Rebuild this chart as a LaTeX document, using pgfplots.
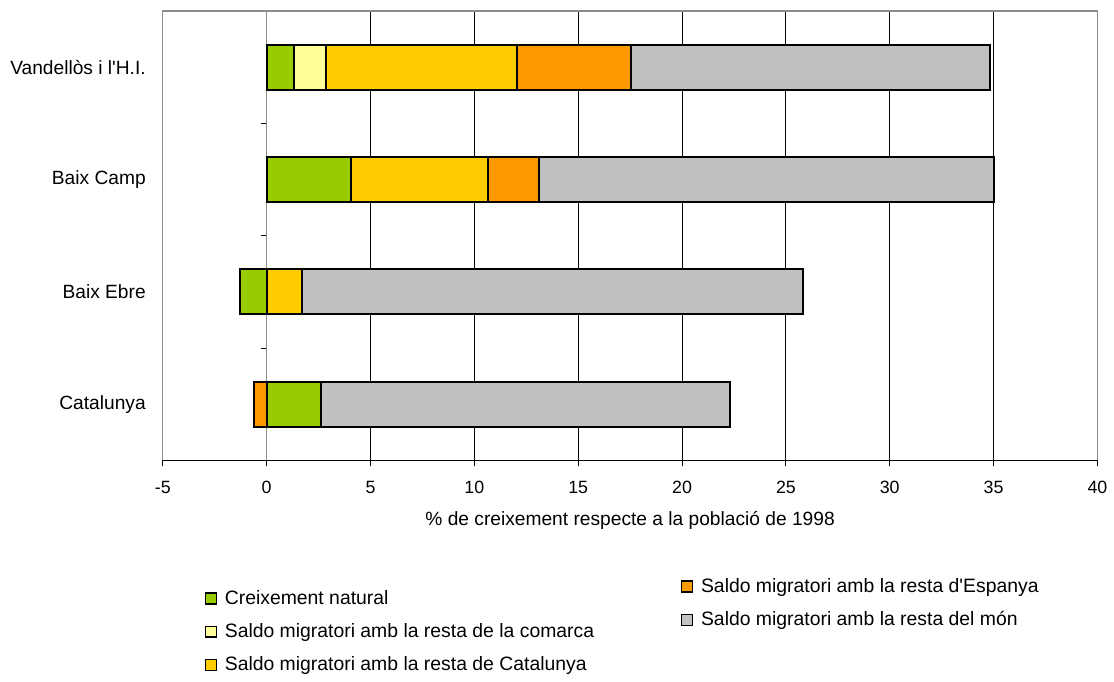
\documentclass[border=0pt]{standalone}
\usepackage{pgfplots}
\pgfplotsset{compat=1.18}
\usepackage{fontspec}
\setmainfont{Liberation Sans}
\definecolor{cgreen}{HTML}{99CC00}
\definecolor{clight}{HTML}{FFFF99}
\definecolor{cyellow}{HTML}{FFCC00}
\definecolor{corange}{HTML}{FF9900}
\definecolor{cgray}{HTML}{C0C0C0}
\definecolor{cframe}{HTML}{8C8C8C}
\pgfplotsset{common/.style={width=468pt,height=225pt,scale only axis,
  xmin=-5,xmax=40,ymin=-0.5,ymax=3.5,enlargelimits=false},
  myleg/.style={legend cell align=left,
    legend style={draw=none, fill=none, row sep=4pt,
      font=\fontsize{9.7}{11.5}\selectfont,
      /tikz/every odd column/.append style={column sep=2pt}},
    legend image code/.code={\draw[##1,draw=black,line width=0.6pt] (0pt,-2.75pt) rectangle (5.5pt,2.75pt);}}}
\begin{document}
\begin{tikzpicture}[font=\fontsize{9.6}{11.5}\selectfont]
% frame, grid, labels, left legend column
\begin{axis}[common, name=main, myleg,
  axis line style={cframe, line width=0.6pt},
  xtick={-5,0,...,40},
  xmajorgrids, major grid style={black, line width=0.45pt},
  ytick={0,1,2,3},
  yticklabels={Catalunya, Baix Ebre, Baix Camp, Vandellòs i l\textquotesingle H.I.},
  tick style={draw=none},
  /pgf/number format/assume math mode=true,
  xticklabel style={yshift=-7pt, font=\fontsize{8.9}{10.5}\selectfont},
  yticklabel style={xshift=-5pt},
  xlabel={\% de creixement respecte a la població de 1998},
  xlabel style={yshift=-2pt},
  legend style={at={(0.038,-0.27)}, anchor=north west},
]
\addlegendimage{fill=cgreen}
\addlegendentry{Creixement natural}
\addlegendimage{fill=clight}
\addlegendentry{Saldo migratori amb la resta de la comarca}
\addlegendimage{fill=cyellow}
\addlegendentry{Saldo migratori amb la resta de Catalunya}
\end{axis}
% zero line, bottom axis, positive stacks
\begin{axis}[common, xbar stacked, bar width=22.5pt,
  axis x line=bottom, axis y line=middle, axis line style={-},
  x axis line style={black, line width=0.6pt},
  y axis line style={cframe, line width=0.6pt},
  xtick={-5,0,...,40}, xticklabels={},
  ytick={0.5,1.5,2.5}, yticklabels={},
  tick align=outside, major tick length=3pt,
  tick style={black, line width=0.5pt},
  every axis plot/.append style={draw=black, line width=1pt},
]
\addplot[fill=cgreen]  coordinates {(1.30,3) (4.04,2) (0,1) (2.63,0)};
\addplot[fill=clight]  coordinates {(1.54,3) (0,2) (0,1) (0,0)};
\addplot[fill=cyellow] coordinates {(9.23,3) (6.63,2) (1.68,1) (0,0)};
\addplot[fill=corange] coordinates {(5.48,3) (2.46,2) (0,1) (0,0)};
\addplot[fill=cgray]   coordinates {(17.26,3) (21.87,2) (24.14,1) (19.68,0)};
\end{axis}
% negative stacks, right legend column
\begin{axis}[common, hide axis, xbar stacked, bar width=22.5pt, myleg,
  every axis plot/.append style={draw=black, line width=1pt},
  legend style={at={(0.5475,-0.2433)}, anchor=north west},
]
\addplot[fill=cgreen, forget plot]  coordinates {(-1.30,1) (0,0)};
\addplot[fill=corange, forget plot] coordinates {(0,1) (-0.59,0)};
\addlegendimage{fill=corange}
\addlegendentry{Saldo migratori amb la resta d\textquotesingle Espanya}
\addlegendimage{fill=cgray}
\addlegendentry{Saldo migratori amb la resta del món}
\end{axis}
\path ([shift={(-81.5pt,-108pt)}]main.south west) rectangle ([shift={(7.5pt,5.5pt)}]main.north east);
\end{tikzpicture}
\end{document}
